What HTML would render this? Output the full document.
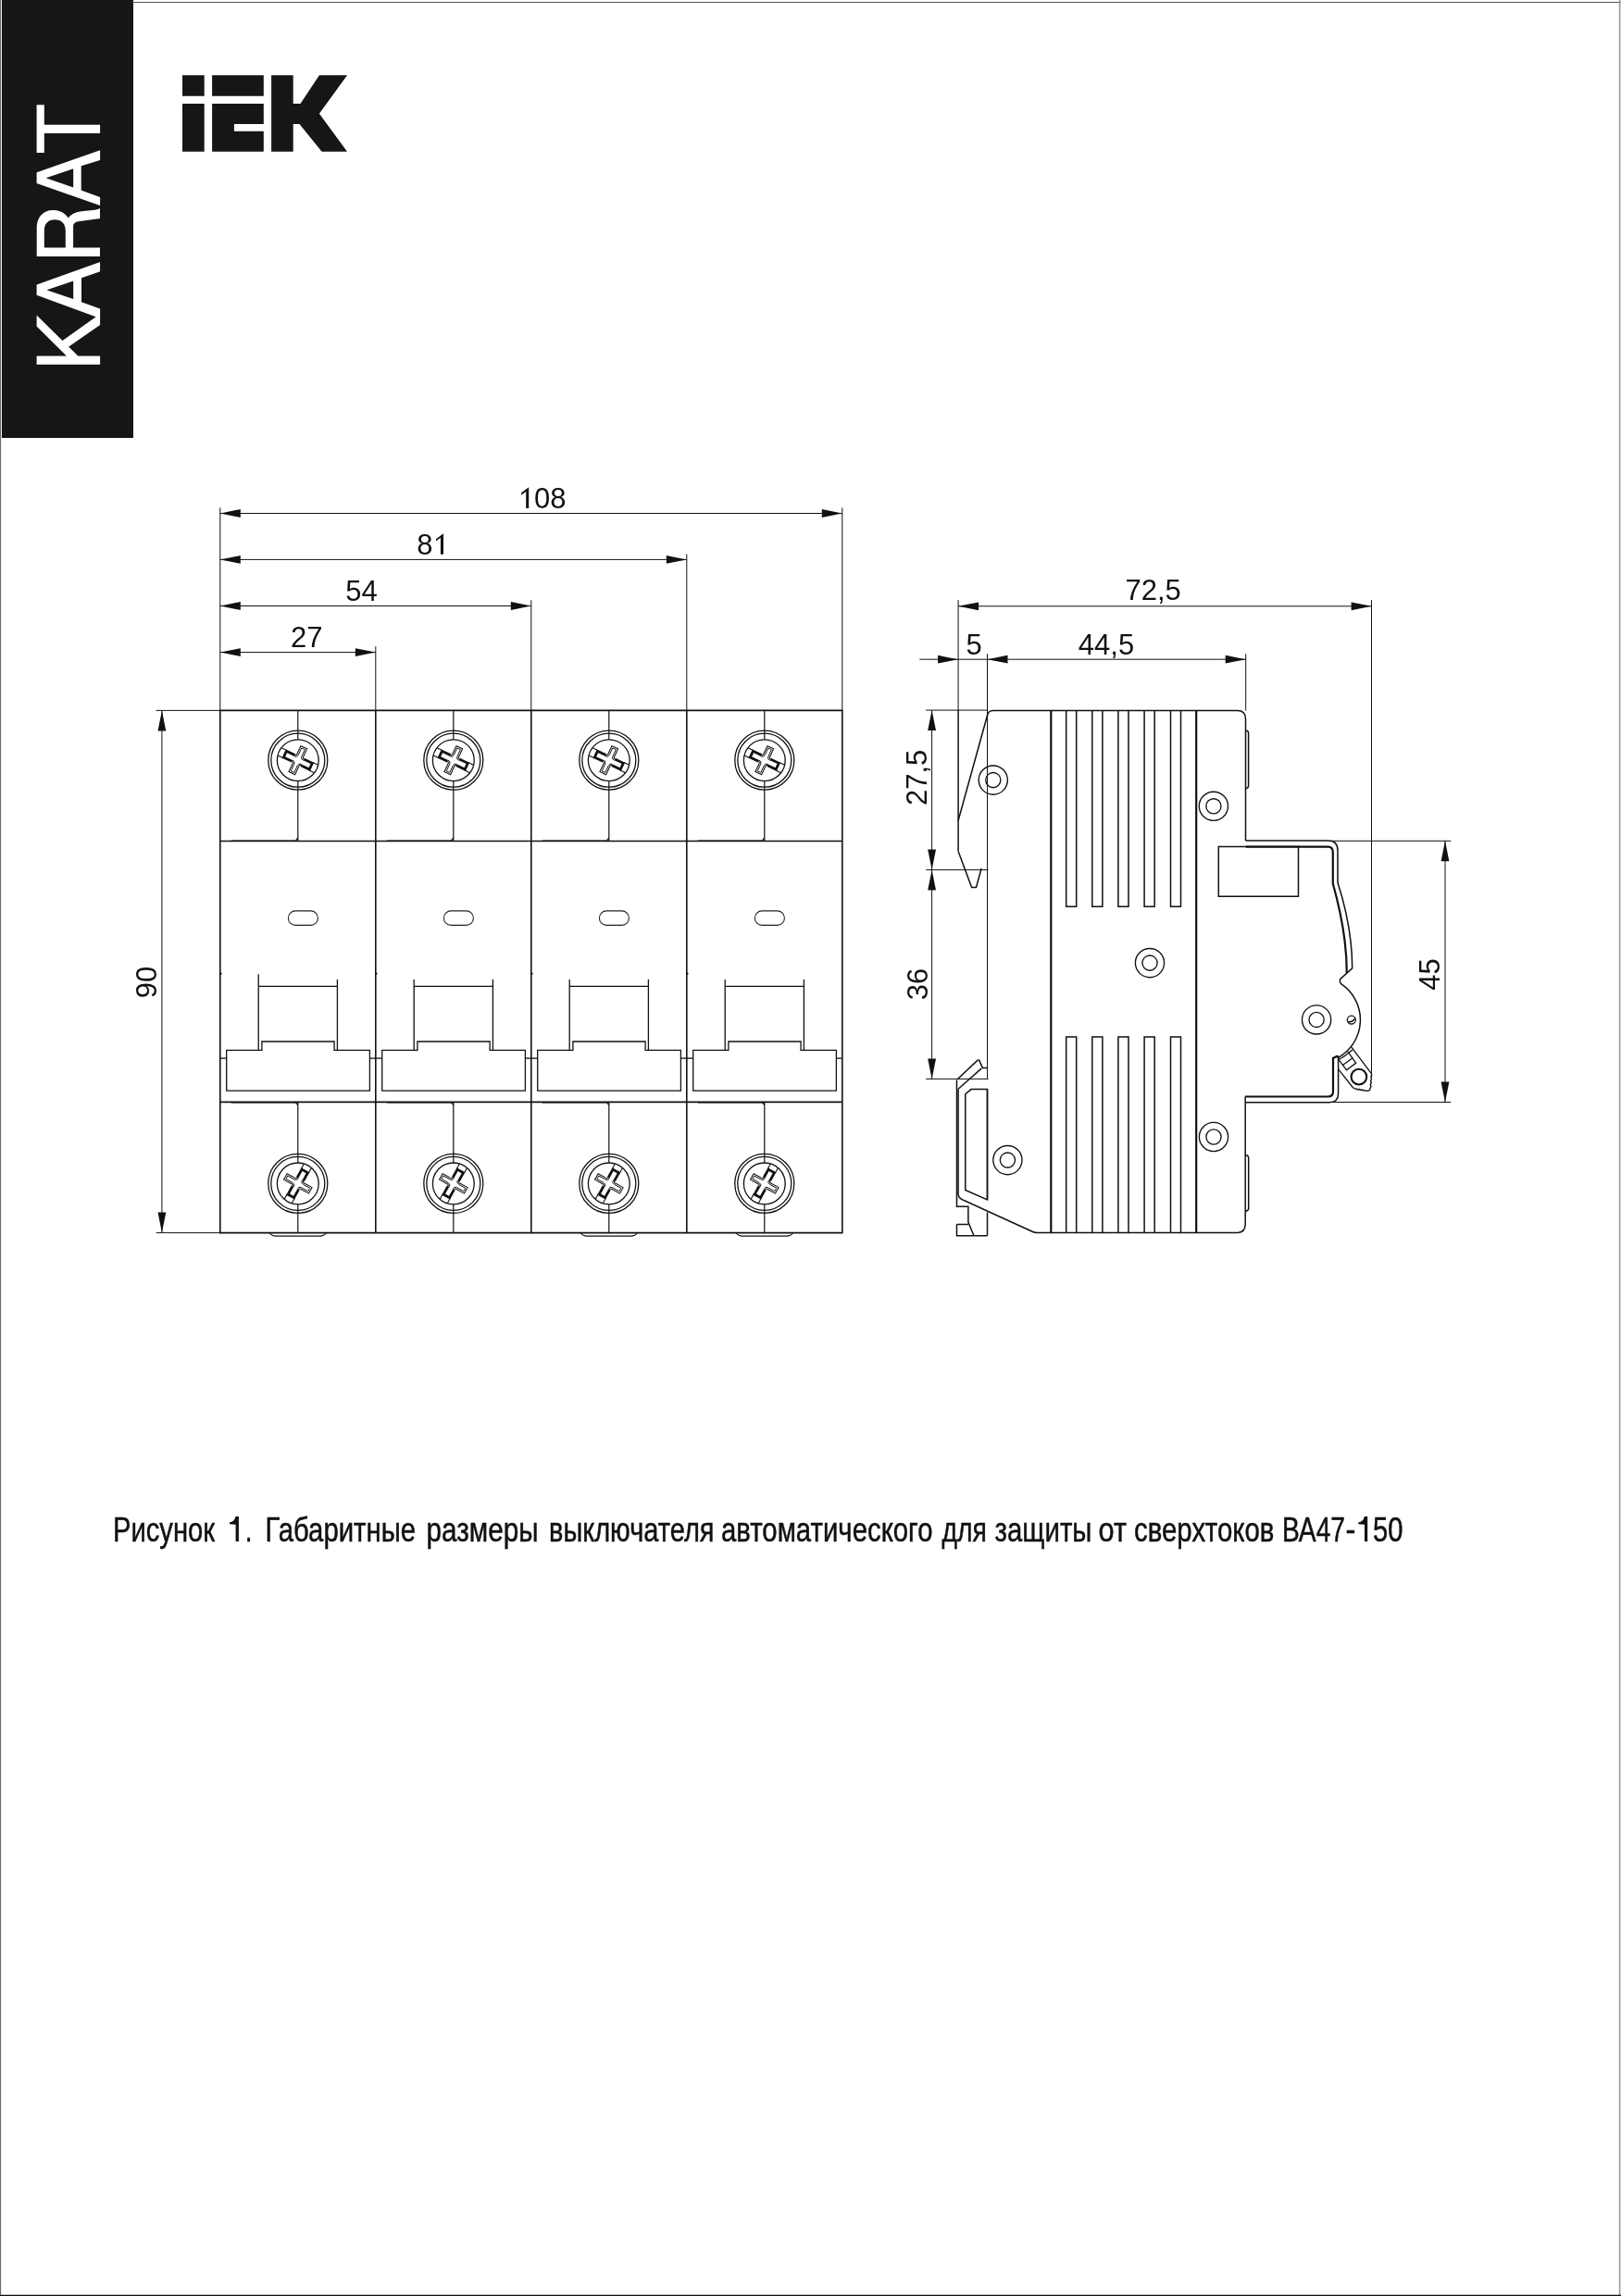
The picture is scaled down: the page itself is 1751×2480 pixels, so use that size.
<!DOCTYPE html>
<html><head><meta charset="utf-8"><title>BA47-150</title>
<style>html,body{margin:0;padding:0;background:#fff;}svg{display:block;will-change:transform;}text{font-family:"Liberation Sans",sans-serif;fill:#111;}</style>
</head><body>
<svg width="1751" height="2480" viewBox="0 0 1751 2480">
<rect x="0" y="0" width="1751" height="2480" fill="#fff"/>
<rect x="2" y="0" width="142" height="473" fill="#161616"/>
<line x1="0.5" y1="0" x2="0.5" y2="2480" stroke="#6a6a6a" stroke-width="1.2"/>
<line x1="143" y1="2.5" x2="1751" y2="2.5" stroke="#555" stroke-width="1.2"/>
<line x1="1749.6" y1="0" x2="1749.6" y2="2480" stroke="#999" stroke-width="1.6"/>
<line x1="0" y1="2479.5" x2="1751" y2="2479.5" stroke="#111" stroke-width="1.4"/>
<path fill="#fff" fill-rule="evenodd" d="M39.6,113.3 H47.8 V134.8 H108.1 V144.0 H47.8 V165.1 H39.6 Z M39.6,186.2 L108.1,162.2 L108.1,172.9 L87.7,179.3 L87.7,205.5 L108.1,212.9 L108.1,222.1 L39.6,198.1 Z M49.6,192.2 L79.2,182.2 L79.2,202.5 Z M39.7,276.9 L108,276.9 L108,267.5 L79.1,267.5 L79.1,245 C79.1,241 81.5,239.6 86,239.1 L108,236.1 L108,224.7 C106,226 104,226.8 100,227.1 L88,228.3 C80.5,229.3 76,232 73.9,235.5 C70,229.5 64,226.9 57.2,226.9 C46,226.9 39.7,235 39.7,246 Z M47.8,267.5 L47.8,249.4 C47.8,241.5 52,237.2 59.3,237.2 C66.5,237.2 70.8,241.5 70.8,249.4 L70.8,267.5 Z M39.6,307.6 L108.1,283.0 L108.1,293.2 L88.0,300.3 L88.0,326.3 L108.1,333.4 L108.1,350.9 L74.2,374.6 L67.4,367.9 L103.6,342.2 L39.6,318.7 Z M50.4,313.3 L79.2,303.4 L79.2,322.9 Z M39.6,340.5 L39.6,352.6 L71.9,384.6 L84.3,384.6 Z M39.6,384.6 H108.1 V393.7 H39.6 Z"/>
<path fill="#161616" d="M197,81.3 H220.7 V103.7 H197 Z M197,112 H220.7 V163.8 H197 Z M229.1,81.3 H284.8 V103.7 H229.1 Z M229.1,112 H284.8 V134 H252.9 V141.8 H284.8 V163.8 H229.1 Z M293.1,81.3 H316.7 V112 H324.5 L344.9,81.3 H375 L344.9,122.7 L375,163.8 H347.6 L323.5,134 H316.7 V163.8 H293.1 Z"/>
<path d="M237.8,767.4 H909.8 V1331.6 H237.8 Z" stroke="#111" stroke-width="1.6" fill="none"/>
<line x1="405.8" y1="767.4" x2="405.8" y2="1331.6" stroke="#111" stroke-width="1.6" fill="none"/>
<line x1="573.8" y1="767.4" x2="573.8" y2="1331.6" stroke="#111" stroke-width="1.6" fill="none"/>
<line x1="741.8" y1="767.4" x2="741.8" y2="1331.6" stroke="#111" stroke-width="1.6" fill="none"/>
<circle cx="238.5" cy="1051.7" r="1.1" fill="#111"/>
<circle cx="406.5" cy="1051.7" r="1.1" fill="#111"/>
<circle cx="574.5" cy="1051.7" r="1.1" fill="#111"/>
<circle cx="742.5" cy="1051.7" r="1.1" fill="#111"/>
<line x1="237.8" y1="908.5" x2="909.8" y2="908.5" stroke="#111" stroke-width="1.6" fill="none"/>
<line x1="237.8" y1="1190.4" x2="909.8" y2="1190.4" stroke="#111" stroke-width="1.6" fill="none"/>
<circle cx="321.8" cy="821.2" r="32" stroke="#111" stroke-width="1.3" fill="none"/>
<circle cx="321.8" cy="821.2" r="29" stroke="#111" stroke-width="1.3" fill="none"/>
<circle cx="321.8" cy="821.2" r="22.4" stroke="#111" stroke-width="1.3" fill="none"/>
<line x1="309.79" y1="810.52" x2="303.88" y2="807.77" stroke="#111" stroke-width="1.1"/>
<line x1="337.7" y1="823.54" x2="343.61" y2="826.3" stroke="#111" stroke-width="1.1"/>
<line x1="305.9" y1="818.86" x2="299.99" y2="816.1" stroke="#111" stroke-width="1.1"/>
<line x1="333.81" y1="831.88" x2="339.72" y2="834.63" stroke="#111" stroke-width="1.1"/>
<path d="M318.56,815.61 L309.41,811.34 L306.28,818.05 L315.43,822.31" fill="none" stroke="#111" stroke-width="2.8" stroke-linejoin="miter"/>
<path d="M328.17,820.09 L337.32,824.35 L334.19,831.06 L325.04,826.79" fill="none" stroke="#111" stroke-width="2.8" stroke-linejoin="miter"/>
<path d="M318.56,815.61 Q320.01,816.28 320.69,814.83 L324.95,805.68 L331.66,808.81 L327.39,817.96 Q326.72,819.41 328.17,820.09" fill="none" stroke="#111" stroke-width="1.05"/>
<path d="M317.97,816.88 Q320.96,818.27 322.23,815.55 L325.78,807.94 L329.4,809.63 L325.85,817.24 Q324.58,819.96 327.58,821.36" fill="none" stroke="#111" stroke-width="1.0"/>
<path d="M315.43,822.31 Q316.88,822.99 316.21,824.44 L311.94,833.59 L318.65,836.72 L322.91,827.57 Q323.59,826.12 325.04,826.79" fill="none" stroke="#111" stroke-width="1.05"/>
<path d="M316.02,821.04 Q319.02,822.44 317.75,825.16 L314.2,832.77 L317.82,834.46 L321.37,826.85 Q322.64,824.13 325.63,825.52" fill="none" stroke="#111" stroke-width="1.0"/>
<line x1="321.8" y1="767.4" x2="321.8" y2="798.8" stroke="#111" stroke-width="1.2"/>
<line x1="321.8" y1="843.6" x2="321.8" y2="908.5" stroke="#111" stroke-width="1.2"/>
<circle cx="321.8" cy="1278.4" r="32" stroke="#111" stroke-width="1.3" fill="none"/>
<circle cx="321.8" cy="1278.4" r="29" stroke="#111" stroke-width="1.3" fill="none"/>
<circle cx="321.8" cy="1278.4" r="22.4" stroke="#111" stroke-width="1.3" fill="none"/>
<line x1="310.31" y1="1289.64" x2="307.15" y2="1295.34" stroke="#111" stroke-width="1.1"/>
<line x1="325.24" y1="1262.7" x2="328.41" y2="1257" stroke="#111" stroke-width="1.1"/>
<line x1="318.36" y1="1294.1" x2="315.19" y2="1299.8" stroke="#111" stroke-width="1.1"/>
<line x1="333.29" y1="1267.16" x2="336.45" y2="1261.46" stroke="#111" stroke-width="1.1"/>
<path d="M315.99,1281.24 L311.1,1290.08 L317.57,1293.66 L322.47,1284.83" fill="none" stroke="#111" stroke-width="2.8" stroke-linejoin="miter"/>
<path d="M321.13,1271.97 L326.03,1263.14 L332.5,1266.72 L327.61,1275.56" fill="none" stroke="#111" stroke-width="2.8" stroke-linejoin="miter"/>
<path d="M315.99,1281.24 Q316.77,1279.84 315.37,1279.07 L306.54,1274.17 L310.12,1267.7 L318.96,1272.59 Q320.36,1273.37 321.13,1271.97" fill="none" stroke="#111" stroke-width="1.05"/>
<path d="M317.22,1281.92 Q318.82,1279.03 316.19,1277.58 L308.85,1273.51 L310.79,1270.01 L318.13,1274.08 Q320.76,1275.54 322.36,1272.65" fill="none" stroke="#111" stroke-width="1.0"/>
<path d="M322.47,1284.83 Q323.24,1283.43 324.64,1284.21 L333.48,1289.1 L337.06,1282.63 L328.23,1277.73 Q326.83,1276.96 327.61,1275.56" fill="none" stroke="#111" stroke-width="1.05"/>
<path d="M321.24,1284.15 Q322.84,1281.26 325.47,1282.72 L332.81,1286.79 L334.75,1283.29 L327.41,1279.22 Q324.78,1277.77 326.38,1274.88" fill="none" stroke="#111" stroke-width="1.0"/>
<line x1="321.8" y1="1190.4" x2="321.8" y2="1256" stroke="#111" stroke-width="1.2"/>
<line x1="321.8" y1="1300.8" x2="321.8" y2="1331.6" stroke="#111" stroke-width="1.2"/>
<rect x="311.4" y="983.9" width="32" height="15.5" rx="7.75" stroke="#222" stroke-width="1.1" fill="none"/>
<line x1="279.2" y1="1052.3" x2="279.2" y2="1134.4" stroke="#111" stroke-width="1.3"/>
<line x1="364.4" y1="1057.9" x2="364.4" y2="1134.4" stroke="#111" stroke-width="1.3"/>
<line x1="279.2" y1="1065.3" x2="364.4" y2="1065.3" stroke="#111" stroke-width="1.3"/>
<path d="M244.7,1134.4 H282.9 V1125 H361.1 V1134.4 H399.4 V1178.1 H244.7 Z" stroke="#111" stroke-width="1.3" fill="none"/>
<line x1="237.8" y1="1143.1" x2="244.7" y2="1143.1" stroke="#111" stroke-width="1.3"/>
<line x1="399.4" y1="1143.1" x2="405.8" y2="1143.1" stroke="#111" stroke-width="1.3"/>
<path d="M249.8,908.1 H319.3 L321.8,905" stroke="#111" stroke-width="1.2" fill="none"/>
<path d="M249.8,1190.8 H319.3 L321.8,1193.5" stroke="#111" stroke-width="1.2" fill="none"/>
<path d="M290.8,1331.6 Q293.8,1335.1 297.8,1335.1 H345.8 Q349.8,1335.1 352.8,1331.6" stroke="#111" stroke-width="1.1" fill="none"/>
<circle cx="489.8" cy="821.2" r="32" stroke="#111" stroke-width="1.3" fill="none"/>
<circle cx="489.8" cy="821.2" r="29" stroke="#111" stroke-width="1.3" fill="none"/>
<circle cx="489.8" cy="821.2" r="22.4" stroke="#111" stroke-width="1.3" fill="none"/>
<line x1="477.79" y1="810.52" x2="471.88" y2="807.77" stroke="#111" stroke-width="1.1"/>
<line x1="505.7" y1="823.54" x2="511.61" y2="826.3" stroke="#111" stroke-width="1.1"/>
<line x1="473.9" y1="818.86" x2="467.99" y2="816.1" stroke="#111" stroke-width="1.1"/>
<line x1="501.81" y1="831.88" x2="507.72" y2="834.63" stroke="#111" stroke-width="1.1"/>
<path d="M486.56,815.61 L477.41,811.34 L474.28,818.05 L483.43,822.31" fill="none" stroke="#111" stroke-width="2.8" stroke-linejoin="miter"/>
<path d="M496.17,820.09 L505.32,824.35 L502.19,831.06 L493.04,826.79" fill="none" stroke="#111" stroke-width="2.8" stroke-linejoin="miter"/>
<path d="M486.56,815.61 Q488.01,816.28 488.69,814.83 L492.95,805.68 L499.66,808.81 L495.39,817.96 Q494.72,819.41 496.17,820.09" fill="none" stroke="#111" stroke-width="1.05"/>
<path d="M485.97,816.88 Q488.96,818.27 490.23,815.55 L493.78,807.94 L497.4,809.63 L493.85,817.24 Q492.58,819.96 495.58,821.36" fill="none" stroke="#111" stroke-width="1.0"/>
<path d="M483.43,822.31 Q484.88,822.99 484.21,824.44 L479.94,833.59 L486.65,836.72 L490.91,827.57 Q491.59,826.12 493.04,826.79" fill="none" stroke="#111" stroke-width="1.05"/>
<path d="M484.02,821.04 Q487.02,822.44 485.75,825.16 L482.2,832.77 L485.82,834.46 L489.37,826.85 Q490.64,824.13 493.63,825.52" fill="none" stroke="#111" stroke-width="1.0"/>
<line x1="489.8" y1="767.4" x2="489.8" y2="798.8" stroke="#111" stroke-width="1.2"/>
<line x1="489.8" y1="843.6" x2="489.8" y2="908.5" stroke="#111" stroke-width="1.2"/>
<circle cx="489.8" cy="1278.4" r="32" stroke="#111" stroke-width="1.3" fill="none"/>
<circle cx="489.8" cy="1278.4" r="29" stroke="#111" stroke-width="1.3" fill="none"/>
<circle cx="489.8" cy="1278.4" r="22.4" stroke="#111" stroke-width="1.3" fill="none"/>
<line x1="478.31" y1="1289.64" x2="475.15" y2="1295.34" stroke="#111" stroke-width="1.1"/>
<line x1="493.24" y1="1262.7" x2="496.41" y2="1257" stroke="#111" stroke-width="1.1"/>
<line x1="486.36" y1="1294.1" x2="483.19" y2="1299.8" stroke="#111" stroke-width="1.1"/>
<line x1="501.29" y1="1267.16" x2="504.45" y2="1261.46" stroke="#111" stroke-width="1.1"/>
<path d="M483.99,1281.24 L479.1,1290.08 L485.57,1293.66 L490.47,1284.83" fill="none" stroke="#111" stroke-width="2.8" stroke-linejoin="miter"/>
<path d="M489.13,1271.97 L494.03,1263.14 L500.5,1266.72 L495.61,1275.56" fill="none" stroke="#111" stroke-width="2.8" stroke-linejoin="miter"/>
<path d="M483.99,1281.24 Q484.77,1279.84 483.37,1279.07 L474.54,1274.17 L478.12,1267.7 L486.96,1272.59 Q488.36,1273.37 489.13,1271.97" fill="none" stroke="#111" stroke-width="1.05"/>
<path d="M485.22,1281.92 Q486.82,1279.03 484.19,1277.58 L476.85,1273.51 L478.79,1270.01 L486.13,1274.08 Q488.76,1275.54 490.36,1272.65" fill="none" stroke="#111" stroke-width="1.0"/>
<path d="M490.47,1284.83 Q491.24,1283.43 492.64,1284.21 L501.48,1289.1 L505.06,1282.63 L496.23,1277.73 Q494.83,1276.96 495.61,1275.56" fill="none" stroke="#111" stroke-width="1.05"/>
<path d="M489.24,1284.15 Q490.84,1281.26 493.47,1282.72 L500.81,1286.79 L502.75,1283.29 L495.41,1279.22 Q492.78,1277.77 494.38,1274.88" fill="none" stroke="#111" stroke-width="1.0"/>
<line x1="489.8" y1="1190.4" x2="489.8" y2="1256" stroke="#111" stroke-width="1.2"/>
<line x1="489.8" y1="1300.8" x2="489.8" y2="1331.6" stroke="#111" stroke-width="1.2"/>
<rect x="479.4" y="983.9" width="32" height="15.5" rx="7.75" stroke="#222" stroke-width="1.1" fill="none"/>
<line x1="447.2" y1="1057.9" x2="447.2" y2="1134.4" stroke="#111" stroke-width="1.3"/>
<line x1="532.4" y1="1057.9" x2="532.4" y2="1134.4" stroke="#111" stroke-width="1.3"/>
<line x1="447.2" y1="1065.3" x2="532.4" y2="1065.3" stroke="#111" stroke-width="1.3"/>
<path d="M412.7,1134.4 H450.9 V1125 H529.1 V1134.4 H567.4 V1178.1 H412.7 Z" stroke="#111" stroke-width="1.3" fill="none"/>
<line x1="405.8" y1="1143.1" x2="412.7" y2="1143.1" stroke="#111" stroke-width="1.3"/>
<line x1="567.4" y1="1143.1" x2="573.8" y2="1143.1" stroke="#111" stroke-width="1.3"/>
<path d="M417.8,908.1 H487.3 L489.8,905" stroke="#111" stroke-width="1.2" fill="none"/>
<path d="M417.8,1190.8 H487.3 L489.8,1193.5" stroke="#111" stroke-width="1.2" fill="none"/>
<circle cx="657.8" cy="821.2" r="32" stroke="#111" stroke-width="1.3" fill="none"/>
<circle cx="657.8" cy="821.2" r="29" stroke="#111" stroke-width="1.3" fill="none"/>
<circle cx="657.8" cy="821.2" r="22.4" stroke="#111" stroke-width="1.3" fill="none"/>
<line x1="645.79" y1="810.52" x2="639.88" y2="807.77" stroke="#111" stroke-width="1.1"/>
<line x1="673.7" y1="823.54" x2="679.61" y2="826.3" stroke="#111" stroke-width="1.1"/>
<line x1="641.9" y1="818.86" x2="635.99" y2="816.1" stroke="#111" stroke-width="1.1"/>
<line x1="669.81" y1="831.88" x2="675.72" y2="834.63" stroke="#111" stroke-width="1.1"/>
<path d="M654.56,815.61 L645.41,811.34 L642.28,818.05 L651.43,822.31" fill="none" stroke="#111" stroke-width="2.8" stroke-linejoin="miter"/>
<path d="M664.17,820.09 L673.32,824.35 L670.19,831.06 L661.04,826.79" fill="none" stroke="#111" stroke-width="2.8" stroke-linejoin="miter"/>
<path d="M654.56,815.61 Q656.01,816.28 656.69,814.83 L660.95,805.68 L667.66,808.81 L663.39,817.96 Q662.72,819.41 664.17,820.09" fill="none" stroke="#111" stroke-width="1.05"/>
<path d="M653.97,816.88 Q656.96,818.27 658.23,815.55 L661.78,807.94 L665.4,809.63 L661.85,817.24 Q660.58,819.96 663.58,821.36" fill="none" stroke="#111" stroke-width="1.0"/>
<path d="M651.43,822.31 Q652.88,822.99 652.21,824.44 L647.94,833.59 L654.65,836.72 L658.91,827.57 Q659.59,826.12 661.04,826.79" fill="none" stroke="#111" stroke-width="1.05"/>
<path d="M652.02,821.04 Q655.02,822.44 653.75,825.16 L650.2,832.77 L653.82,834.46 L657.37,826.85 Q658.64,824.13 661.63,825.52" fill="none" stroke="#111" stroke-width="1.0"/>
<line x1="657.8" y1="767.4" x2="657.8" y2="798.8" stroke="#111" stroke-width="1.2"/>
<line x1="657.8" y1="843.6" x2="657.8" y2="908.5" stroke="#111" stroke-width="1.2"/>
<circle cx="657.8" cy="1278.4" r="32" stroke="#111" stroke-width="1.3" fill="none"/>
<circle cx="657.8" cy="1278.4" r="29" stroke="#111" stroke-width="1.3" fill="none"/>
<circle cx="657.8" cy="1278.4" r="22.4" stroke="#111" stroke-width="1.3" fill="none"/>
<line x1="646.31" y1="1289.64" x2="643.15" y2="1295.34" stroke="#111" stroke-width="1.1"/>
<line x1="661.24" y1="1262.7" x2="664.41" y2="1257" stroke="#111" stroke-width="1.1"/>
<line x1="654.36" y1="1294.1" x2="651.19" y2="1299.8" stroke="#111" stroke-width="1.1"/>
<line x1="669.29" y1="1267.16" x2="672.45" y2="1261.46" stroke="#111" stroke-width="1.1"/>
<path d="M651.99,1281.24 L647.1,1290.08 L653.57,1293.66 L658.47,1284.83" fill="none" stroke="#111" stroke-width="2.8" stroke-linejoin="miter"/>
<path d="M657.13,1271.97 L662.03,1263.14 L668.5,1266.72 L663.61,1275.56" fill="none" stroke="#111" stroke-width="2.8" stroke-linejoin="miter"/>
<path d="M651.99,1281.24 Q652.77,1279.84 651.37,1279.07 L642.54,1274.17 L646.12,1267.7 L654.96,1272.59 Q656.36,1273.37 657.13,1271.97" fill="none" stroke="#111" stroke-width="1.05"/>
<path d="M653.22,1281.92 Q654.82,1279.03 652.19,1277.58 L644.85,1273.51 L646.79,1270.01 L654.13,1274.08 Q656.76,1275.54 658.36,1272.65" fill="none" stroke="#111" stroke-width="1.0"/>
<path d="M658.47,1284.83 Q659.24,1283.43 660.64,1284.21 L669.48,1289.1 L673.06,1282.63 L664.23,1277.73 Q662.83,1276.96 663.61,1275.56" fill="none" stroke="#111" stroke-width="1.05"/>
<path d="M657.24,1284.15 Q658.84,1281.26 661.47,1282.72 L668.81,1286.79 L670.75,1283.29 L663.41,1279.22 Q660.78,1277.77 662.38,1274.88" fill="none" stroke="#111" stroke-width="1.0"/>
<line x1="657.8" y1="1190.4" x2="657.8" y2="1256" stroke="#111" stroke-width="1.2"/>
<line x1="657.8" y1="1300.8" x2="657.8" y2="1331.6" stroke="#111" stroke-width="1.2"/>
<rect x="647.4" y="983.9" width="32" height="15.5" rx="7.75" stroke="#222" stroke-width="1.1" fill="none"/>
<line x1="615.2" y1="1057.9" x2="615.2" y2="1134.4" stroke="#111" stroke-width="1.3"/>
<line x1="700.4" y1="1057.9" x2="700.4" y2="1134.4" stroke="#111" stroke-width="1.3"/>
<line x1="615.2" y1="1065.3" x2="700.4" y2="1065.3" stroke="#111" stroke-width="1.3"/>
<path d="M580.7,1134.4 H618.9 V1125 H697.1 V1134.4 H735.4 V1178.1 H580.7 Z" stroke="#111" stroke-width="1.3" fill="none"/>
<line x1="573.8" y1="1143.1" x2="580.7" y2="1143.1" stroke="#111" stroke-width="1.3"/>
<line x1="735.4" y1="1143.1" x2="741.8" y2="1143.1" stroke="#111" stroke-width="1.3"/>
<path d="M585.8,908.1 H655.3 L657.8,905" stroke="#111" stroke-width="1.2" fill="none"/>
<path d="M585.8,1190.8 H655.3 L657.8,1193.5" stroke="#111" stroke-width="1.2" fill="none"/>
<path d="M626.8,1331.6 Q629.8,1335.1 633.8,1335.1 H681.8 Q685.8,1335.1 688.8,1331.6" stroke="#111" stroke-width="1.1" fill="none"/>
<circle cx="825.8" cy="821.2" r="32" stroke="#111" stroke-width="1.3" fill="none"/>
<circle cx="825.8" cy="821.2" r="29" stroke="#111" stroke-width="1.3" fill="none"/>
<circle cx="825.8" cy="821.2" r="22.4" stroke="#111" stroke-width="1.3" fill="none"/>
<line x1="813.79" y1="810.52" x2="807.88" y2="807.77" stroke="#111" stroke-width="1.1"/>
<line x1="841.7" y1="823.54" x2="847.61" y2="826.3" stroke="#111" stroke-width="1.1"/>
<line x1="809.9" y1="818.86" x2="803.99" y2="816.1" stroke="#111" stroke-width="1.1"/>
<line x1="837.81" y1="831.88" x2="843.72" y2="834.63" stroke="#111" stroke-width="1.1"/>
<path d="M822.56,815.61 L813.41,811.34 L810.28,818.05 L819.43,822.31" fill="none" stroke="#111" stroke-width="2.8" stroke-linejoin="miter"/>
<path d="M832.17,820.09 L841.32,824.35 L838.19,831.06 L829.04,826.79" fill="none" stroke="#111" stroke-width="2.8" stroke-linejoin="miter"/>
<path d="M822.56,815.61 Q824.01,816.28 824.69,814.83 L828.95,805.68 L835.66,808.81 L831.39,817.96 Q830.72,819.41 832.17,820.09" fill="none" stroke="#111" stroke-width="1.05"/>
<path d="M821.97,816.88 Q824.96,818.27 826.23,815.55 L829.78,807.94 L833.4,809.63 L829.85,817.24 Q828.58,819.96 831.58,821.36" fill="none" stroke="#111" stroke-width="1.0"/>
<path d="M819.43,822.31 Q820.88,822.99 820.21,824.44 L815.94,833.59 L822.65,836.72 L826.91,827.57 Q827.59,826.12 829.04,826.79" fill="none" stroke="#111" stroke-width="1.05"/>
<path d="M820.02,821.04 Q823.02,822.44 821.75,825.16 L818.2,832.77 L821.82,834.46 L825.37,826.85 Q826.64,824.13 829.63,825.52" fill="none" stroke="#111" stroke-width="1.0"/>
<line x1="825.8" y1="767.4" x2="825.8" y2="798.8" stroke="#111" stroke-width="1.2"/>
<line x1="825.8" y1="843.6" x2="825.8" y2="908.5" stroke="#111" stroke-width="1.2"/>
<circle cx="825.8" cy="1278.4" r="32" stroke="#111" stroke-width="1.3" fill="none"/>
<circle cx="825.8" cy="1278.4" r="29" stroke="#111" stroke-width="1.3" fill="none"/>
<circle cx="825.8" cy="1278.4" r="22.4" stroke="#111" stroke-width="1.3" fill="none"/>
<line x1="814.31" y1="1289.64" x2="811.15" y2="1295.34" stroke="#111" stroke-width="1.1"/>
<line x1="829.24" y1="1262.7" x2="832.41" y2="1257" stroke="#111" stroke-width="1.1"/>
<line x1="822.36" y1="1294.1" x2="819.19" y2="1299.8" stroke="#111" stroke-width="1.1"/>
<line x1="837.29" y1="1267.16" x2="840.45" y2="1261.46" stroke="#111" stroke-width="1.1"/>
<path d="M819.99,1281.24 L815.1,1290.08 L821.57,1293.66 L826.47,1284.83" fill="none" stroke="#111" stroke-width="2.8" stroke-linejoin="miter"/>
<path d="M825.13,1271.97 L830.03,1263.14 L836.5,1266.72 L831.61,1275.56" fill="none" stroke="#111" stroke-width="2.8" stroke-linejoin="miter"/>
<path d="M819.99,1281.24 Q820.77,1279.84 819.37,1279.07 L810.54,1274.17 L814.12,1267.7 L822.96,1272.59 Q824.36,1273.37 825.13,1271.97" fill="none" stroke="#111" stroke-width="1.05"/>
<path d="M821.22,1281.92 Q822.82,1279.03 820.19,1277.58 L812.85,1273.51 L814.79,1270.01 L822.13,1274.08 Q824.76,1275.54 826.36,1272.65" fill="none" stroke="#111" stroke-width="1.0"/>
<path d="M826.47,1284.83 Q827.24,1283.43 828.64,1284.21 L837.48,1289.1 L841.06,1282.63 L832.23,1277.73 Q830.83,1276.96 831.61,1275.56" fill="none" stroke="#111" stroke-width="1.05"/>
<path d="M825.24,1284.15 Q826.84,1281.26 829.47,1282.72 L836.81,1286.79 L838.75,1283.29 L831.41,1279.22 Q828.78,1277.77 830.38,1274.88" fill="none" stroke="#111" stroke-width="1.0"/>
<line x1="825.8" y1="1190.4" x2="825.8" y2="1256" stroke="#111" stroke-width="1.2"/>
<line x1="825.8" y1="1300.8" x2="825.8" y2="1331.6" stroke="#111" stroke-width="1.2"/>
<rect x="815.4" y="983.9" width="32" height="15.5" rx="7.75" stroke="#222" stroke-width="1.1" fill="none"/>
<line x1="783.2" y1="1057.9" x2="783.2" y2="1134.4" stroke="#111" stroke-width="1.3"/>
<line x1="868.4" y1="1057.9" x2="868.4" y2="1134.4" stroke="#111" stroke-width="1.3"/>
<line x1="783.2" y1="1065.3" x2="868.4" y2="1065.3" stroke="#111" stroke-width="1.3"/>
<path d="M748.7,1134.4 H786.9 V1125 H865.1 V1134.4 H903.4 V1178.1 H748.7 Z" stroke="#111" stroke-width="1.3" fill="none"/>
<line x1="741.8" y1="1143.1" x2="748.7" y2="1143.1" stroke="#111" stroke-width="1.3"/>
<line x1="903.4" y1="1143.1" x2="909.8" y2="1143.1" stroke="#111" stroke-width="1.3"/>
<path d="M753.8,908.1 H823.3 L825.8,905" stroke="#111" stroke-width="1.2" fill="none"/>
<path d="M753.8,1190.8 H823.3 L825.8,1193.5" stroke="#111" stroke-width="1.2" fill="none"/>
<path d="M794.8,1331.6 Q797.8,1335.1 801.8,1335.1 H849.8 Q853.8,1335.1 856.8,1331.6" stroke="#111" stroke-width="1.1" fill="none"/>
<line x1="237.8" y1="554.5" x2="909.8" y2="554.5" stroke="#111" stroke-width="1.0" fill="none"/>
<path d="M237.8,554.5 L259.8,550.1 L259.8,558.9 Z" fill="#111"/>
<path d="M909.8,554.5 L887.8,558.9 L887.8,550.1 Z" fill="#111"/>
<line x1="909.8" y1="548.4" x2="909.8" y2="767.4" stroke="#111" stroke-width="1.0" fill="none"/>
<line x1="237.8" y1="604.4" x2="741.8" y2="604.4" stroke="#111" stroke-width="1.0" fill="none"/>
<path d="M237.8,604.4 L259.8,600 L259.8,608.8 Z" fill="#111"/>
<path d="M741.8,604.4 L719.8,608.8 L719.8,600 Z" fill="#111"/>
<line x1="741.8" y1="598.5" x2="741.8" y2="767.4" stroke="#111" stroke-width="1.0" fill="none"/>
<line x1="237.8" y1="654.5" x2="573.8" y2="654.5" stroke="#111" stroke-width="1.0" fill="none"/>
<path d="M237.8,654.5 L259.8,650.1 L259.8,658.9 Z" fill="#111"/>
<path d="M573.8,654.5 L551.8,658.9 L551.8,650.1 Z" fill="#111"/>
<line x1="573.8" y1="648.3" x2="573.8" y2="767.4" stroke="#111" stroke-width="1.0" fill="none"/>
<line x1="237.8" y1="704.6" x2="405.8" y2="704.6" stroke="#111" stroke-width="1.0" fill="none"/>
<path d="M237.8,704.6 L259.8,700.2 L259.8,709 Z" fill="#111"/>
<path d="M405.8,704.6 L383.8,709 L383.8,700.2 Z" fill="#111"/>
<line x1="405.8" y1="698.2" x2="405.8" y2="767.4" stroke="#111" stroke-width="1.0" fill="none"/>
<line x1="237.8" y1="548.4" x2="237.8" y2="767.4" stroke="#111" stroke-width="1.0" fill="none"/>
<path d="M571.2,549.1 V526.3 L563.13,532.35 V534.77 L568.2,530.94 V549.1 Z" fill="#111"/>
<text x="611.5" y="549.1" font-size="31" text-anchor="end">08</text>
<path d="M479,598.8 V576.2 L471,582.2 V584.6 L475.9,580.8 V598.8 Z" fill="#111"/>
<text x="467.5" y="598.8" font-size="31" text-anchor="end">8</text>
<text x="390.5" y="648.8" font-size="31" text-anchor="middle">54</text>
<text x="331.2" y="698.9" font-size="31" text-anchor="middle">27</text>
<line x1="174.9" y1="767.4" x2="174.9" y2="1331.6" stroke="#111" stroke-width="1.0" fill="none"/>
<path d="M174.9,767.4 L179.3,789.4 L170.5,789.4 Z" fill="#111"/>
<path d="M174.9,1331.6 L170.5,1309.6 L179.3,1309.6 Z" fill="#111"/>
<line x1="168.7" y1="767.4" x2="237.8" y2="767.4" stroke="#111" stroke-width="1.0" fill="none"/>
<line x1="168.7" y1="1331.6" x2="237.8" y2="1331.6" stroke="#111" stroke-width="1.0" fill="none"/>
<text x="168.6" y="1060.9" font-size="31" text-anchor="middle" transform="rotate(-90 168.6 1060.9)">90</text>
<path d="M1066.5,773.5 Q1067,767.5 1073,767.5 H1336.5 Q1345.5,767.5 1345.5,776.5 V908.1" stroke="#111" stroke-width="1.5" fill="none"/>
<line x1="1066.5" y1="706.2" x2="1066.5" y2="1165.4" stroke="#111" stroke-width="1.0" fill="none"/>
<line x1="1066.5" y1="1176.6" x2="1066.5" y2="1295.9" stroke="#111" stroke-width="1.5" fill="none"/>
<line x1="1066.5" y1="1309.5" x2="1066.5" y2="1334.8" stroke="#111" stroke-width="1.5" fill="none"/>
<path d="M1066.5,772.7 L1035.1,886.2" stroke="#111" stroke-width="1.5" fill="none"/>
<line x1="1035.1" y1="648.1" x2="1035.1" y2="767.1" stroke="#111" stroke-width="1.0" fill="none"/>
<line x1="1035.1" y1="767.1" x2="1035.1" y2="919.5" stroke="#111" stroke-width="1.5" fill="none"/>
<path d="M1035.1,919.5 L1049.6,958.4 H1054.5 L1060.1,938" stroke="#111" stroke-width="1.5" fill="none"/>
<path d="M1034.2,1165.8 L1055.8,1145.4 Q1057,1144.6 1058,1145.6 L1061.3,1153.4 H1066.5" stroke="#111" stroke-width="1.5" fill="none"/>
<path d="M1035.1,1176.3 L1060.1,1154.1" stroke="#111" stroke-width="1.5" fill="none"/>
<path d="M1033.5,1166.4 V1303.3 H1045.9 V1320 L1052,1334.8" stroke="#111" stroke-width="1.5" fill="none"/>
<path d="M1035.1,1176.3 V1290.4 Q1035.6,1295 1042.8,1297.2 L1115.6,1330.5 Q1117.5,1331.4 1120,1331.4 H1336.8 Q1345.2,1331.4 1345.2,1322.1 V1184.5" stroke="#111" stroke-width="1.5" fill="none"/>
<path d="M1033.5,1322.5 H1045.9 M1033.5,1322.5 V1334.8 H1066.5" stroke="#111" stroke-width="1.5" fill="none"/>
<path d="M1042.8,1181.8 L1049,1176.6 H1066.5 V1295.9 L1042.8,1285.5 Z" stroke="#111" stroke-width="1.5" fill="none"/>
<line x1="1135.3" y1="767.5" x2="1135.3" y2="1331.4" stroke="#111" stroke-width="2.2" fill="none"/>
<line x1="1292.2" y1="767.5" x2="1292.2" y2="1331.4" stroke="#111" stroke-width="2.2" fill="none"/>
<path d="M1151.7,767.5 V979.3 H1162.7 V767.5" stroke="#111" stroke-width="1.5" fill="none"/>
<path d="M1151.7,1331.4 V1120.1 H1162.7 V1331.4" stroke="#111" stroke-width="1.5" fill="none"/>
<path d="M1179.8,767.5 V979.3 H1190.9 V767.5" stroke="#111" stroke-width="1.5" fill="none"/>
<path d="M1179.8,1331.4 V1120.1 H1190.9 V1331.4" stroke="#111" stroke-width="1.5" fill="none"/>
<path d="M1207.9,767.5 V979.3 H1219 V767.5" stroke="#111" stroke-width="1.5" fill="none"/>
<path d="M1207.9,1331.4 V1120.1 H1219 V1331.4" stroke="#111" stroke-width="1.5" fill="none"/>
<path d="M1236.1,767.5 V979.3 H1247.2 V767.5" stroke="#111" stroke-width="1.5" fill="none"/>
<path d="M1236.1,1331.4 V1120.1 H1247.2 V1331.4" stroke="#111" stroke-width="1.5" fill="none"/>
<path d="M1264.5,767.5 V979.3 H1275.5 V767.5" stroke="#111" stroke-width="1.5" fill="none"/>
<path d="M1264.5,1331.4 V1120.1 H1275.5 V1331.4" stroke="#111" stroke-width="1.5" fill="none"/>
<circle cx="1072.8" cy="842.6" r="15.6" stroke="#111" stroke-width="1.35" fill="none"/>
<circle cx="1072.8" cy="842.6" r="8.1" stroke="#111" stroke-width="1.35" fill="none"/>
<circle cx="1310.9" cy="870.8" r="15.6" stroke="#111" stroke-width="1.35" fill="none"/>
<circle cx="1310.9" cy="870.8" r="8.1" stroke="#111" stroke-width="1.35" fill="none"/>
<circle cx="1242" cy="1040.1" r="15.6" stroke="#111" stroke-width="1.35" fill="none"/>
<circle cx="1242" cy="1040.1" r="8.1" stroke="#111" stroke-width="1.35" fill="none"/>
<circle cx="1311" cy="1228" r="15.6" stroke="#111" stroke-width="1.35" fill="none"/>
<circle cx="1311" cy="1228" r="8.1" stroke="#111" stroke-width="1.35" fill="none"/>
<circle cx="1088.4" cy="1253.1" r="15.6" stroke="#111" stroke-width="1.35" fill="none"/>
<circle cx="1088.4" cy="1253.1" r="8.1" stroke="#111" stroke-width="1.35" fill="none"/>
<circle cx="1422.1" cy="1101.4" r="15.6" stroke="#111" stroke-width="1.35" fill="none"/>
<circle cx="1422.1" cy="1101.4" r="8.1" stroke="#111" stroke-width="1.35" fill="none"/>
<path d="M1345.5,789.4 H1347.5 Q1348.6,790.5 1348.6,792 V849 Q1348.6,851 1345.5,851.8" stroke="#111" stroke-width="1.5" fill="none"/>
<path d="M1345.2,1248.1 H1347.5 Q1348.7,1249.5 1348.7,1251 V1305.5 Q1348.7,1307.5 1345.2,1308.5" stroke="#111" stroke-width="1.5" fill="none"/>
<path d="M1345.5,908.1 H1434.5 Q1445,908.1 1445,918.6 V953.2 C1452,975 1460.7,1010 1460.7,1045.9 L1447.6,1057.7 Q1446.8,1061 1448.9,1062.9 A46.7,46.7 0 0 1 1445.6,1142.3" stroke="#111" stroke-width="1.5" fill="none"/>
<path d="M1345.7,914.6 H1434.6 Q1439.8,914.6 1439.8,920.5 V954.5 C1447,980 1454.8,1015 1454.8,1051.1" stroke="#111" stroke-width="2.2" fill="none"/>
<path d="M1316.3,914.6 H1402.5 V968.2 H1316.3 Z" stroke="#111" stroke-width="1.5" fill="none"/>
<path d="M1345,1184.5 H1434.5 Q1440,1184.5 1440,1179 V1143 L1444.2,1140.8 Q1445.6,1141 1445.6,1143" stroke="#111" stroke-width="2.2" fill="none"/>
<path d="M1345,1190.7 H1436 Q1445.6,1190.7 1445.6,1181 V1142" stroke="#111" stroke-width="1.5" fill="none"/>
<path d="M1445.8,1144.8 Q1453,1140.6 1461.0,1133.9" stroke="#111" stroke-width="1.3" fill="none"/>
<path d="M1459.7,1130.9 L1481.0,1159.2" stroke="#111" stroke-width="1.3" fill="none"/>
<path d="M1445.9,1155.2 L1461.6,1175.0" stroke="#111" stroke-width="1.3" fill="none"/>
<path d="M1481.0,1159.2 Q1482.6,1161.2 1480.8,1163.2 Q1482.4,1165.4 1480.5,1167.4 Q1482.1,1169.6 1480.2,1171.6 Q1481.8,1173.8 1479.9,1175.6 Q1480.2,1178.4 1477.6,1177.9 Q1476.2,1179.2 1474.6,1177.6 Q1473.2,1178.8 1471.6,1177.0 Q1470.2,1178.2 1468.6,1176.5 Q1467.2,1177.7 1465.6,1176.0 Q1464.3,1177 1463.2,1175.6 L1461.6,1175.0" stroke="#111" stroke-width="1.3" fill="none"/>
<path d="M1456.0,1135.8 L1464.7,1148.4 L1454.5,1155.8 L1446.2,1144.7 M1450.8,1150.3 L1460.4,1143.2" stroke="#111" stroke-width="1.3" fill="none"/>
<circle cx="1467.9" cy="1163.1" r="8.35" stroke="#111" stroke-width="2.1" fill="none"/>
<circle cx="1459.8" cy="1101.6" r="4.5" stroke="#111" stroke-width="1.3" fill="none"/>
<path d="M1455.9,1103.6 Q1461.2,1104.6 1463.6,1099.6" stroke="#111" stroke-width="1.3" fill="none"/>
<line x1="1035.1" y1="654.8" x2="1481.6" y2="654.8" stroke="#111" stroke-width="1.0" fill="none"/>
<path d="M1035.1,654.8 L1057.1,650.4 L1057.1,659.2 Z" fill="#111"/>
<path d="M1481.6,654.8 L1459.6,659.2 L1459.6,650.4 Z" fill="#111"/>
<line x1="1481.5" y1="648.1" x2="1481.5" y2="1158.9" stroke="#111" stroke-width="1.0" fill="none"/>
<line x1="993.3" y1="712.2" x2="1345.7" y2="712.2" stroke="#111" stroke-width="1.0" fill="none"/>
<path d="M1035.1,712.2 L1013.1,716.6 L1013.1,707.8 Z" fill="#111"/>
<path d="M1066.5,712.2 L1088.5,707.8 L1088.5,716.6 Z" fill="#111"/>
<path d="M1345.7,712.2 L1323.7,716.6 L1323.7,707.8 Z" fill="#111"/>
<line x1="1345.7" y1="706.2" x2="1345.7" y2="767.5" stroke="#111" stroke-width="1.0" fill="none"/>
<text x="1245.6" y="648.1" font-size="31" text-anchor="middle">72,5</text>
<text x="1052.2" y="706.6" font-size="31" text-anchor="middle">5</text>
<text x="1195" y="706.6" font-size="31" text-anchor="middle">44,5</text>
<line x1="1006.6" y1="767.1" x2="1006.6" y2="1165.4" stroke="#111" stroke-width="1.0" fill="none"/>
<path d="M1006.6,767.1 L1011,789.1 L1002.2,789.1 Z" fill="#111"/>
<path d="M1006.6,939.6 L1002.2,917.6 L1011,917.6 Z" fill="#111"/>
<path d="M1006.6,939.6 L1011,961.6 L1002.2,961.6 Z" fill="#111"/>
<path d="M1006.6,1165.4 L1002.2,1143.4 L1011,1143.4 Z" fill="#111"/>
<line x1="1000.2" y1="767.1" x2="1066.5" y2="767.1" stroke="#111" stroke-width="1.0" fill="none"/>
<line x1="1000.2" y1="939.6" x2="1067.5" y2="939.6" stroke="#111" stroke-width="1.0" fill="none"/>
<line x1="1000.2" y1="1165.4" x2="1067.5" y2="1165.4" stroke="#111" stroke-width="1.0" fill="none"/>
<text x="1001.5" y="839.9" font-size="31" text-anchor="middle" transform="rotate(-90 1001.5 839.9)">27,5</text>
<text x="1001.5" y="1063" font-size="31" text-anchor="middle" transform="rotate(-90 1001.5 1063)">36</text>
<line x1="1437" y1="908.3" x2="1567.3" y2="908.3" stroke="#111" stroke-width="1.0" fill="none"/>
<line x1="1432.5" y1="1190.5" x2="1567.3" y2="1190.5" stroke="#111" stroke-width="1.0" fill="none"/>
<line x1="1561" y1="908.3" x2="1561" y2="1190.5" stroke="#111" stroke-width="1.0" fill="none"/>
<path d="M1561,908.3 L1565.4,930.3 L1556.6,930.3 Z" fill="#111"/>
<path d="M1561,1190.5 L1556.6,1168.5 L1565.4,1168.5 Z" fill="#111"/>
<text x="1554.7" y="1052.5" font-size="31" text-anchor="middle" transform="rotate(-90 1554.7 1052.5)">45</text>
<text x="122.03" y="1665" font-size="36.5" textLength="109.98" lengthAdjust="spacingAndGlyphs" stroke="#111" stroke-width="0.5">Рисунок</text>
<text x="264.76" y="1665" font-size="36.5" textLength="7.7" lengthAdjust="spacingAndGlyphs" stroke="#111" stroke-width="0.5">.</text>
<text x="286.49" y="1665" font-size="36.5" textLength="162.52" lengthAdjust="spacingAndGlyphs" stroke="#111" stroke-width="0.5">Габаритные</text>
<text x="460.49" y="1665" font-size="36.5" textLength="121.02" lengthAdjust="spacingAndGlyphs" stroke="#111" stroke-width="0.5">размеры</text>
<text x="592.99" y="1665" font-size="36.5" textLength="178.52" lengthAdjust="spacingAndGlyphs" stroke="#111" stroke-width="0.5">выключателя</text>
<text x="779" y="1665" font-size="36.5" textLength="228.49" lengthAdjust="spacingAndGlyphs" stroke="#111" stroke-width="0.5">автоматического</text>
<text x="1017.5" y="1665" font-size="36.5" textLength="48.45" lengthAdjust="spacingAndGlyphs" stroke="#111" stroke-width="0.5">для</text>
<text x="1074.5" y="1665" font-size="36.5" textLength="104.99" lengthAdjust="spacingAndGlyphs" stroke="#111" stroke-width="0.5">защиты</text>
<text x="1186.55" y="1665" font-size="36.5" textLength="30.47" lengthAdjust="spacingAndGlyphs" stroke="#111" stroke-width="0.5">от</text>
<text x="1225" y="1665" font-size="36.5" textLength="151.49" lengthAdjust="spacingAndGlyphs" stroke="#111" stroke-width="0.5">сверхтоков</text>
<text x="1384.99" y="1665" font-size="36.5" textLength="68.02" lengthAdjust="spacingAndGlyphs" stroke="#111" stroke-width="0.5">ВА47</text>
<text x="1453.54" y="1664.0" font-size="36.5" textLength="10.95" lengthAdjust="spacingAndGlyphs" stroke="#111" stroke-width="0.5">-</text>
<text x="1483.03" y="1665" font-size="36.5" textLength="32.45" lengthAdjust="spacingAndGlyphs" stroke="#111" stroke-width="0.5">50</text>
<path d="M257.9,1664.9 V1638.1 H254.4 Q253.18,1644.03 248.06,1644.15 V1646.16 Q251.38,1646.4 254.6,1646.64 V1664.9 Z" fill="#111"/>
<path d="M1477.2,1664.9 V1638.1 H1473.8 Q1472.58,1644.03 1467.36,1644.15 V1646.16 Q1470.68,1646.4 1474,1646.64 V1664.9 Z" fill="#111"/>
</svg>
</body></html>
